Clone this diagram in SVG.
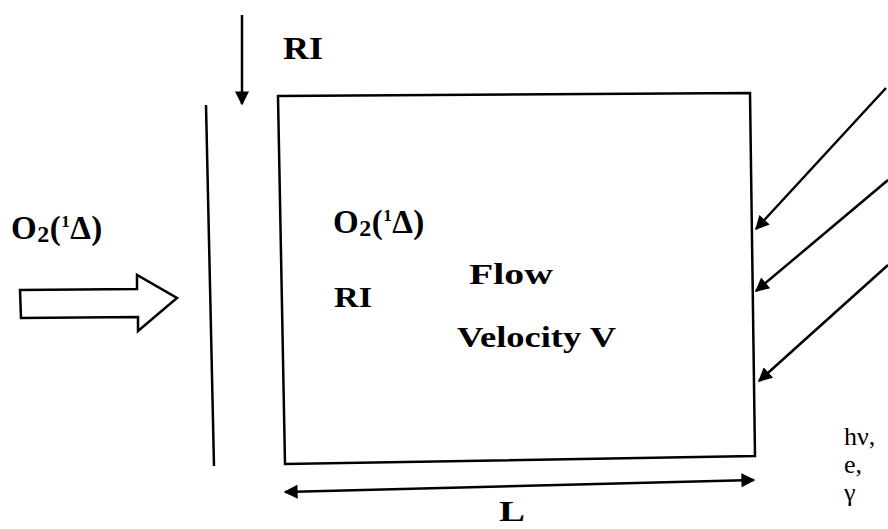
<svg xmlns="http://www.w3.org/2000/svg" width="888" height="529" viewBox="0 0 888 529">
<style>
.ln{stroke:#000;stroke-width:2.5;fill:none}
.b{font-family:"Liberation Serif","Times New Roman",serif;font-weight:bold;fill:#000}
.r{font-family:"Liberation Serif","Times New Roman",serif;fill:#000}
</style>
<defs>
<marker id="ah" viewBox="0 0 10 10" refX="9" refY="5" markerWidth="18" markerHeight="14" markerUnits="userSpaceOnUse" orient="auto-start-reverse">
<path d="M0,0 L10,5 L0,10 z" fill="#000"/>
</marker>
</defs>
<g id="box"><polygon class="ln" points="278,96 750,93 755,456 285,464"/></g>
<g id="wall"><line class="ln" x1="206" y1="105" x2="214" y2="466"/></g>
<g id="inlet-arrow"><polygon class="ln" points="20,290 137,289 137,275 177,298 138,331 138,317 21,318"/></g>
<g id="labels">
<text class="b" x="11" y="239" font-size="33" letter-spacing="0.5">O<tspan font-size="24" dy="3">2</tspan><tspan dy="-3">(</tspan><tspan font-size="17" dy="-12">1</tspan><tspan dy="12">Δ)</tspan></text>
<text class="b" x="333" y="233" font-size="33" letter-spacing="0.5">O<tspan font-size="24" dy="3">2</tspan><tspan dy="-3">(</tspan><tspan font-size="17" dy="-12">1</tspan><tspan dy="12">Δ)</tspan></text>
<text class="b" x="283" y="59" font-size="31" textLength="40" lengthAdjust="spacingAndGlyphs">RI</text>
<text class="b" x="469" y="284" font-size="30" textLength="84" lengthAdjust="spacingAndGlyphs">Flow</text>
<text class="b" x="334" y="307" font-size="30" textLength="38" lengthAdjust="spacingAndGlyphs">RI</text>
<text class="b" x="457" y="347" font-size="30" textLength="159" lengthAdjust="spacingAndGlyphs">Velocity  V</text>
<text class="b" x="499" y="521" font-size="30" textLength="26" lengthAdjust="spacingAndGlyphs">L</text>
<text class="r" x="844" y="445" font-size="26">hν,</text>
<text class="r" x="844" y="473" font-size="26">e,</text>
<text class="r" x="844" y="501" font-size="26">γ</text>
</g>
<g id="connectors">
<line class="ln" x1="242" y1="15" x2="242" y2="104" marker-end="url(#ah)"/>
<line class="ln" x1="886" y1="88" x2="756" y2="229" marker-end="url(#ah)"/>
<line class="ln" x1="888" y1="180" x2="756" y2="291" marker-end="url(#ah)"/>
<line class="ln" x1="888" y1="265" x2="759" y2="381" marker-end="url(#ah)"/>
<line class="ln" x1="285" y1="492" x2="754" y2="480" marker-start="url(#ah)" marker-end="url(#ah)"/>
</g>
</svg>
